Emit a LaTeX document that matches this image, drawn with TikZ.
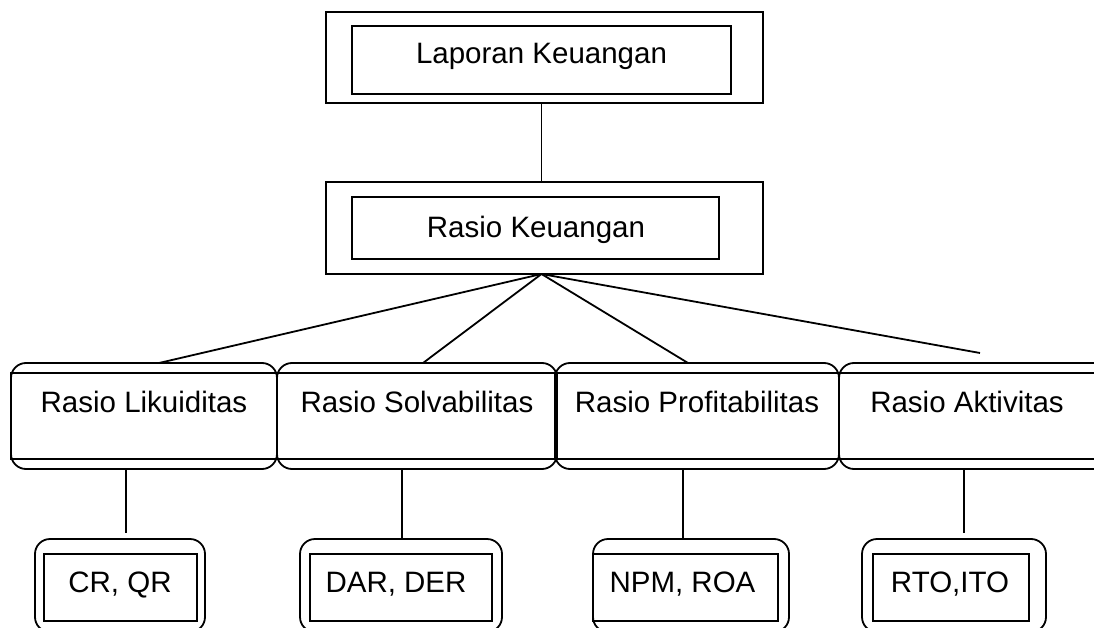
\documentclass[tikz,border=0pt]{standalone}
\usepackage{fontspec}
\setmainfont{Liberation Sans}
\begin{document}
\begin{tikzpicture}[x=1pt,y=-1pt,
  line width=1.8pt,
  box/.style={draw, rectangle, inner sep=0pt, outer sep=0pt},
  rbox/.style={draw, rectangle, rounded corners=15pt, inner sep=0pt, outer sep=0pt},
  lbl/.style={anchor=base, inner sep=0pt, font=\fontsize{29.5}{31}\selectfont},
  conn/.style={draw, line width=1.8pt}]
\useasboundingbox (0,0) rectangle (1094,628);
\clip (0,0) rectangle (1094,628);

% top
\node[box, minimum width=437pt, minimum height=91pt] (l1o) at (544.5,57.5) {};
\node[box, minimum width=379pt, minimum height=68pt] (l1i) at (541.5,60) {};
\node[lbl] (l1t) at (541.5,64) {Laporan Keuangan};

\node[box, minimum width=437pt, minimum height=92pt] (l2o) at (544.5,228) {};
\node[box, minimum width=367pt, minimum height=62pt] (l2i) at (535.5,228) {};
\node[lbl] (l2t) at (536,237) {Rasio Keuangan};

% middle row
\node[rbox, minimum width=266pt, minimum height=106pt] (m1o) at (144,416) {};
\node[box, minimum width=266pt, minimum height=86pt] (m1i) at (144,416) {};
\node[lbl] (m1t) at (144,412) {Rasio Likuiditas};

\node[rbox, minimum width=280pt, minimum height=106pt] (m2o) at (417,416) {};
\node[box, minimum width=280pt, minimum height=86pt] (m2i) at (417,416) {};
\node[lbl] (m2t) at (417,412) {Rasio Solvabilitas};

\node[rbox, minimum width=284pt, minimum height=106pt] (m3o) at (697,416) {};
\node[box, minimum width=284pt, minimum height=86pt] (m3i) at (697,416) {};
\node[lbl] (m3t) at (697,412) {Rasio Profitabilitas};

\node[rbox, minimum width=271pt, minimum height=106pt] (m4o) at (974.5,416) {};
\node[box, minimum width=271pt, minimum height=86pt] (m4i) at (974.5,416) {};
\node[lbl] (m4t) at (967,412) {Rasio Aktivitas};

% bottom row
\node[rbox, minimum width=170pt, minimum height=93pt] (b1o) at (120,585.5) {};
\node[box, minimum width=153pt, minimum height=67pt] (b1i) at (120.5,587.5) {};
\node[lbl] (b1t) at (120,592) {CR, QR};

\node[rbox, minimum width=202pt, minimum height=93pt] (b2o) at (401,585.5) {};
\node[box, minimum width=182pt, minimum height=67pt] (b2i) at (401,587.5) {};
\node[lbl] (b2t) at (396,592) {DAR, DER};

\node[rbox, minimum width=196pt, minimum height=93pt] (b3o) at (691,585.5) {};
\node[box, minimum width=185pt, minimum height=67pt] (b3i) at (685.5,587.5) {};
\node[lbl] (b3t) at (682.5,592) {NPM, ROA};

\node[rbox, minimum width=184pt, minimum height=93pt] (b4o) at (954,585.5) {};
\node[box, minimum width=156pt, minimum height=67pt] (b4i) at (951,587.5) {};
\node[lbl] (b4t) at (950,592) {RTO,ITO};

% connectors
\coordinate (hub) at (l1i.south |- l2o.south);
\draw[conn] (l1i.south |- l1o.south) -- (l1i.south |- l2o.north);

\coordinate (e1) at (159,363);
\coordinate (e2) at (423,363);
\coordinate (e3) at (688,363);
\coordinate (e4) at (980,353);
\draw[conn] (hub) -- (e1);
\draw[conn] (hub) -- (e2);
\draw[conn] (hub) -- (e3);
\draw[conn] (hub) -- (e4);

\coordinate (v1) at (126,533);
\coordinate (v4) at (964,533);
\draw[conn] (m1o.south -| v1) -- (v1);
\draw[conn] (m2o.south -| 402,0) -- (b2o.north -| 402,0);
\draw[conn] (m3o.south -| 683,0) -- (b3o.north -| 683,0);
\draw[conn] (m4o.south -| v4) -- (v4);
\end{tikzpicture}
\end{document}
